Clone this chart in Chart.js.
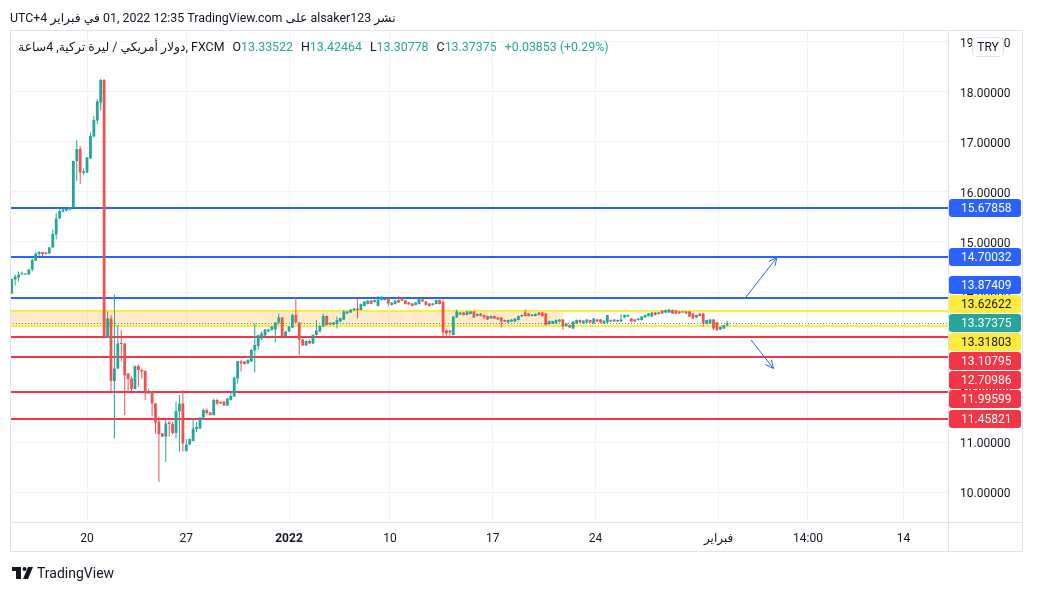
<!DOCTYPE html>
<html>
<head>
<meta charset="utf-8">
<script src="https://cdn.jsdelivr.net/npm/chart.js@4.4.0/dist/chart.umd.min.js"></script>
<style>
  html, body { margin: 0; padding: 0; background: #fff; }
  body { width: 1037px; height: 592px; position: relative; overflow: hidden;
         font-family: Roboto, "Noto Sans", "DejaVu Sans", sans-serif; color: #131722; }
  #chart { position: absolute; left: 0; top: 0; }
  #published { position: absolute; left: 10px; top: 10px; font-size: 12.4px; white-space: nowrap; }
  #legend { position: absolute; left: 18px; top: 39px; font-size: 12.4px; white-space: nowrap; }
  #legend .up { color: #26a69a; }
  #legend .gap { margin-left: 8px; }
  #footer { position: absolute; left: 37px; top: 565px; font-size: 14px; color: #131722; }
</style>
</head>
<body>
<canvas id="chart" width="1037" height="592"></canvas>
<div id="published" dir="ltr">UTC+4 <bdi>في فبراير</bdi> 01, 2022 12:35 TradingView.com <bdi>على</bdi> alsaker123 <bdi>نشر</bdi></div>
<div id="legend"><span>دولار أمريكي / ليرة تركية, 4ساعة, FXCM</span><span class="gap">O<span class="up">13.33522</span></span><span class="gap">H<span class="up">13.42464</span></span><span class="gap">L<span class="up">13.30778</span></span><span class="gap">C<span class="up">13.37375</span></span><span class="gap up">+0.03853 (+0.29%)</span></div>
<div id="footer">TradingView</div>
<script>
// --- date / slots (4h candles, weekends skipped) ---
const slotCount = 274;
const tickSlots = [22, 51, 81, 110.5, 140.5, 170.5, 206.5, 232.6, 260.5];
const tickLabels = ['20', '27', '2022', '10', '17', '24', 'فبراير', '14:00', '14'];

// --- USD/TRY 4h candles ---
const opens = [
  13.97, 14.25, 14.29, 14.35, 14.35, 14.35, 14.45, 14.63, 14.76, 14.80, 14.79, 14.77, 14.89, 15.15, 15.47, 15.61, 15.63, 15.65, 15.69, 16.62,
  16.86, 16.38, 16.39, 16.67, 17.11, 17.43, 17.79, 18.24, 13.09, 13.47, 12.22, 12.47, 12.98, 12.97, 12.37, 12.27, 12.06, 12.52, 12.44, 12.42,
  11.97, 12.00, 11.77, 11.41, 11.17, 11.11, 11.39, 11.36, 11.18, 11.61, 11.77, 10.82, 10.95, 11.02, 11.26, 11.27, 11.49, 11.64, 11.59, 11.54,
  11.84, 11.80, 11.81, 11.73, 11.84, 11.91, 12.27, 12.61, 12.61, 12.57, 12.61, 12.83, 12.92, 13.07, 13.13, 13.21, 13.24, 13.25, 13.39, 13.49,
  13.12, 13.21, 13.29, 13.54, 13.39, 13.05, 12.93, 13.02, 12.97, 13.14, 13.21, 13.31, 13.52, 13.35, 13.35, 13.36, 13.41, 13.45, 13.57, 13.59,
  13.63, 13.67, 13.64, 13.72, 13.76, 13.83, 13.80, 13.72, 13.84, 13.84, 13.87, 13.74, 13.76, 13.84, 13.87, 13.83, 13.79, 13.77, 13.74, 13.76,
  13.85, 13.81, 13.77, 13.74, 13.76, 13.84, 13.80, 13.24, 13.23, 13.14, 13.49, 13.55, 13.59, 13.54, 13.56, 13.61, 13.52, 13.57, 13.54, 13.52,
  13.47, 13.52, 13.49, 13.49, 13.44, 13.39, 13.41, 13.41, 13.44, 13.51, 13.59, 13.57, 13.52, 13.52, 13.59, 13.59, 13.57, 13.36, 13.37, 13.37,
  13.41, 13.45, 13.32, 13.34, 13.27, 13.37, 13.44, 13.37, 13.39, 13.44, 13.37, 13.45, 13.45, 13.37, 13.39, 13.44, 13.41, 13.44, 13.41, 13.49,
  13.51, 13.47, 13.45, 13.44, 13.44, 13.49, 13.52, 13.51, 13.59, 13.56, 13.63, 13.59, 13.59, 13.64, 13.63, 13.61, 13.59, 13.61, 13.61, 13.57,
  13.49, 13.57, 13.57, 13.36, 13.37, 13.45, 13.39, 13.25, 13.27, 13.33522
];
const highs = [
  14.27, 14.35, 14.41, 14.41, 14.37, 14.46, 14.66, 14.79, 14.82, 14.80, 14.80, 14.90, 15.25, 15.58, 15.69, 15.67, 15.68, 15.70, 16.62, 17.04,
  16.92, 16.47, 16.70, 17.19, 17.52, 17.86, 18.26, 18.26, 13.61, 13.54, 13.95, 13.34, 13.24, 12.98, 12.38, 12.31, 12.53, 12.55, 12.47, 12.43,
  12.07, 12.02, 11.78, 11.51, 11.18, 11.44, 11.42, 11.40, 11.81, 11.94, 12.04, 11.06, 11.07, 11.47, 11.40, 11.49, 11.67, 11.67, 11.60, 11.87,
  11.87, 11.81, 11.82, 11.88, 12.02, 12.30, 12.62, 12.64, 12.62, 12.66, 12.86, 13.37, 13.14, 13.21, 13.26, 13.26, 13.32, 13.40, 13.57, 13.50,
  13.22, 13.32, 13.57, 13.89, 13.40, 13.06, 13.03, 13.05, 13.15, 13.44, 13.33, 13.57, 13.53, 13.40, 13.40, 13.51, 13.48, 13.64, 13.62, 13.66,
  13.68, 13.87, 13.77, 13.82, 13.84, 13.84, 13.85, 13.92, 13.92, 13.88, 13.88, 13.79, 13.83, 13.92, 13.88, 13.84, 13.80, 13.78, 13.80, 13.88,
  13.86, 13.82, 13.78, 13.78, 13.84, 13.85, 13.85, 13.25, 13.24, 13.51, 13.65, 13.60, 13.60, 13.62, 13.62, 13.62, 13.57, 13.58, 13.55, 13.53,
  13.53, 13.53, 13.50, 13.50, 13.45, 13.45, 13.46, 13.48, 13.53, 13.55, 13.65, 13.58, 13.56, 13.57, 13.60, 13.60, 13.58, 13.43, 13.43, 13.45,
  13.46, 13.46, 13.38, 13.35, 13.41, 13.45, 13.45, 13.43, 13.46, 13.45, 13.48, 13.46, 13.46, 13.43, 13.54, 13.45, 13.46, 13.45, 13.56, 13.55,
  13.55, 13.48, 13.46, 13.48, 13.51, 13.55, 13.58, 13.59, 13.60, 13.60, 13.64, 13.65, 13.66, 13.65, 13.64, 13.62, 13.62, 13.62, 13.62, 13.58,
  13.55, 13.58, 13.58, 13.45, 13.46, 13.46, 13.40, 13.31, 13.34, 13.42464
];
const lows = [
  13.96, 14.13, 14.21, 14.34, 14.34, 14.34, 14.41, 14.62, 14.72, 14.71, 14.75, 14.76, 14.88, 15.05, 15.46, 15.59, 15.61, 15.63, 15.68, 16.22,
  16.16, 16.34, 16.38, 16.66, 17.09, 17.36, 17.63, 13.09, 13.08, 12.01, 11.07, 12.46, 12.61, 11.54, 11.97, 12.01, 12.05, 12.11, 12.27, 11.84,
  11.96, 11.51, 11.17, 10.20, 11.10, 10.60, 11.11, 11.15, 11.07, 10.81, 10.81, 10.81, 10.94, 11.01, 11.20, 11.26, 11.44, 11.54, 11.53, 11.53,
  11.74, 11.76, 11.72, 11.72, 11.83, 11.90, 12.17, 12.41, 12.55, 12.56, 12.60, 12.39, 12.84, 13.04, 13.12, 13.20, 13.23, 12.99, 13.35, 13.11,
  13.11, 13.20, 13.28, 13.38, 12.74, 12.92, 12.92, 12.96, 12.96, 13.13, 13.20, 13.30, 13.33, 13.34, 13.34, 13.27, 13.40, 13.44, 13.56, 13.58,
  13.62, 13.47, 13.63, 13.71, 13.75, 13.75, 13.79, 13.71, 13.83, 13.83, 13.71, 13.73, 13.75, 13.78, 13.82, 13.75, 13.75, 13.71, 13.73, 13.75,
  13.81, 13.73, 13.71, 13.73, 13.75, 13.75, 13.12, 13.13, 13.13, 13.13, 13.48, 13.54, 13.53, 13.53, 13.55, 13.48, 13.51, 13.51, 13.46, 13.44,
  13.46, 13.46, 13.44, 13.29, 13.40, 13.38, 13.40, 13.40, 13.43, 13.50, 13.51, 13.51, 13.51, 13.51, 13.53, 13.51, 13.33, 13.35, 13.36, 13.36,
  13.40, 13.24, 13.31, 13.28, 13.26, 13.36, 13.38, 13.36, 13.38, 13.38, 13.36, 13.40, 13.37, 13.36, 13.38, 13.40, 13.40, 13.40, 13.40, 13.48,
  13.50, 13.40, 13.40, 13.43, 13.43, 13.48, 13.51, 13.50, 13.53, 13.55, 13.56, 13.58, 13.58, 13.56, 13.56, 13.56, 13.58, 13.56, 13.50, 13.46,
  13.48, 13.51, 13.31, 13.35, 13.36, 13.24, 13.22, 13.24, 13.26, 13.30778
];
const closes = [
  14.26, 14.31, 14.35, 14.36, 14.36, 14.45, 14.64, 14.77, 14.80, 14.76, 14.76, 14.89, 15.16, 15.47, 15.62, 15.65, 15.66, 15.69, 16.62, 16.86,
  16.39, 16.41, 16.69, 17.12, 17.44, 17.81, 18.24, 13.09, 13.47, 12.22, 12.47, 12.97, 12.96, 12.33, 12.26, 12.06, 12.52, 12.44, 12.41, 11.97,
  12.00, 11.77, 11.39, 11.16, 11.11, 11.37, 11.36, 11.18, 11.62, 11.77, 10.97, 10.95, 11.06, 11.27, 11.30, 11.49, 11.64, 11.58, 11.54, 11.84,
  11.77, 11.77, 11.73, 11.87, 11.92, 12.29, 12.62, 12.57, 12.56, 12.64, 12.84, 12.94, 13.14, 13.17, 13.25, 13.25, 13.31, 13.39, 13.49, 13.12,
  13.21, 13.31, 13.54, 13.39, 13.04, 12.93, 13.02, 12.97, 13.14, 13.23, 13.32, 13.52, 13.34, 13.36, 13.39, 13.44, 13.48, 13.61, 13.61, 13.65,
  13.67, 13.64, 13.76, 13.81, 13.83, 13.76, 13.84, 13.85, 13.90, 13.87, 13.77, 13.79, 13.83, 13.79, 13.83, 13.76, 13.75, 13.72, 13.79, 13.87,
  13.81, 13.74, 13.72, 13.77, 13.84, 13.76, 13.19, 13.17, 13.19, 13.51, 13.61, 13.59, 13.54, 13.61, 13.61, 13.49, 13.56, 13.52, 13.49, 13.45,
  13.52, 13.47, 13.45, 13.41, 13.41, 13.44, 13.45, 13.47, 13.52, 13.54, 13.52, 13.52, 13.55, 13.56, 13.54, 13.52, 13.34, 13.42, 13.42, 13.44,
  13.45, 13.31, 13.37, 13.29, 13.41, 13.44, 13.39, 13.43, 13.45, 13.39, 13.47, 13.41, 13.39, 13.43, 13.54, 13.41, 13.45, 13.41, 13.45, 13.54,
  13.54, 13.41, 13.41, 13.47, 13.51, 13.54, 13.57, 13.59, 13.54, 13.59, 13.57, 13.64, 13.65, 13.57, 13.57, 13.57, 13.61, 13.57, 13.51, 13.47,
  13.54, 13.52, 13.37, 13.44, 13.45, 13.27, 13.24, 13.30, 13.34, 13.37375
];

// --- horizontal levels drawn on the chart ---
const resistanceLevels = [15.67858, 14.70032, 13.87409];
const zoneLevels = [13.62622, 13.31803];
const supportLevels = [13.10795, 12.70986, 11.99599, 11.45821];
const lastPrice = 13.37375;
const zoneEndSlot = 161;
// arrows: [slotFrom, priceFrom, slotTo, priceTo]
const arrowUp = [214.5, 13.90, 223.5, 14.69];
const arrowDown = [216, 13.04, 222.5, 12.47];

const teal = '#26a69a', red = '#ef5350';
const blue = '#2962ff', redLine = '#f23645', yellow = '#ffeb3b';
const frameColor = '#e0e3eb', gridColor = '#f0f3fa';
const fontFamily = 'Roboto, "Noto Sans", "DejaVu Sans", sans-serif';
Chart.defaults.font.family = fontFamily;

const candleColors = opens.map((o, i) => closes[i] >= o ? teal : red);
const slots = Array.from({ length: slotCount }, (_, i) => String(i));

function drawArrow(ctx, x1, y1, x2, y2) {
    ctx.beginPath(); ctx.moveTo(x1, y1); ctx.lineTo(x2, y2); ctx.stroke();
    const a = Math.atan2(y2 - y1, x2 - x1), len = 9;
    ctx.beginPath();
    ctx.moveTo(x2 - len * Math.cos(a - 0.45), y2 - len * Math.sin(a - 0.45));
    ctx.lineTo(x2, y2);
    ctx.lineTo(x2 - len * Math.cos(a + 0.45), y2 - len * Math.sin(a + 0.45));
    ctx.stroke();
}

function roundRect(ctx, x, y, w, h, r) {
    ctx.beginPath();
    ctx.moveTo(x + r, y); ctx.lineTo(x + w - r, y); ctx.quadraticCurveTo(x + w, y, x + w, y + r);
    ctx.lineTo(x + w, y + h - r); ctx.quadraticCurveTo(x + w, y + h, x + w - r, y + h);
    ctx.lineTo(x + r, y + h); ctx.quadraticCurveTo(x, y + h, x, y + h - r);
    ctx.lineTo(x, y + r); ctx.quadraticCurveTo(x, y, x + r, y);
    ctx.closePath();
}

// lines, zone and price line under the candles
const levelsPlugin = {
    id: 'levels',
    beforeDatasetsDraw(chart) {
        const { ctx, chartArea: a, scales: { x, y } } = chart;
        ctx.save();
        ctx.beginPath(); ctx.rect(a.left, a.top, a.right - a.left, a.bottom - a.top); ctx.clip();
        // zone fill
        const zTop = y.getPixelForValue(zoneLevels[0]), zBot = y.getPixelForValue(zoneLevels[1]);
        ctx.fillStyle = 'rgba(255, 152, 0, 0.2)';
        ctx.fillRect(a.left, zTop, x.getPixelForValue(zoneEndSlot) - a.left, zBot - zTop);
        ctx.lineWidth = 2;
        const hline = (v, c) => {
            const py = Math.round(y.getPixelForValue(v));
            ctx.strokeStyle = c; ctx.beginPath(); ctx.moveTo(a.left, py); ctx.lineTo(a.right, py); ctx.stroke();
        };
        resistanceLevels.forEach(v => hline(v, blue));
        zoneLevels.forEach(v => hline(v, yellow));
        supportLevels.forEach(v => hline(v, redLine));
        // last price dotted line
        const lp = Math.round(y.getPixelForValue(lastPrice)) + 0.5;
        ctx.lineWidth = 1; ctx.strokeStyle = teal; ctx.setLineDash([1, 2]);
        ctx.beginPath(); ctx.moveTo(a.left, lp); ctx.lineTo(a.right, lp); ctx.stroke();
        ctx.restore();
    },
    afterDatasetsDraw(chart) {
        const { ctx, scales: { x, y } } = chart;
        ctx.save();
        ctx.strokeStyle = blue; ctx.lineWidth = 1;
        [arrowUp, arrowDown].forEach(ar => drawArrow(ctx,
            x.getPixelForValue(ar[0]), y.getPixelForValue(ar[1]),
            x.getPixelForValue(ar[2]), y.getPixelForValue(ar[3])));
        ctx.restore();
    },
    afterDraw(chart) {
        const { ctx, chartArea: a, scales: { y } } = chart;
        ctx.save();
        // frame
        ctx.strokeStyle = frameColor; ctx.lineWidth = 1;
        ctx.strokeRect(a.left + 0.5, a.top + 0.5, y.right - a.left - 1, 551 - a.top);
        ctx.beginPath();
        ctx.moveTo(a.right + 0.5, a.top); ctx.lineTo(a.right + 0.5, 551);
        ctx.moveTo(a.left, a.bottom + 0.5); ctx.lineTo(y.right, a.bottom + 0.5);
        ctx.stroke();

        // price labels, stacked around the last price
        const step = 19, h = 18;
        const anchor = { v: lastPrice, bg: teal, fg: '#fff' };
        const tags = [
            ...resistanceLevels.map(v => ({ v, bg: blue, fg: '#fff' })),
            ...zoneLevels.map(v => ({ v, bg: yellow, fg: '#131722' })),
            ...supportLevels.map(v => ({ v, bg: redLine, fg: '#fff' }))
        ];
        anchor.py = y.getPixelForValue(anchor.v);
        tags.forEach(t => { t.py = y.getPixelForValue(t.v); });
        const above = tags.filter(t => t.py <= anchor.py).sort((p, q) => q.py - p.py);
        const below = tags.filter(t => t.py > anchor.py).sort((p, q) => p.py - q.py);
        let prev = anchor.py;
        above.forEach(t => { t.py = Math.min(t.py, prev - step); prev = t.py; });
        prev = anchor.py;
        below.forEach(t => { t.py = Math.max(t.py, prev + step); prev = t.py; });
        ctx.font = '12px ' + fontFamily;
        ctx.textBaseline = 'middle';
        [...tags, anchor].forEach(t => {
            roundRect(ctx, a.right + 1, Math.round(t.py - h / 2), 72, h, 3);
            ctx.fillStyle = t.bg; ctx.fill();
            ctx.fillStyle = t.fg;
            ctx.fillText(t.v.toFixed(5), a.right + 13, Math.round(t.py) + 1);
        });

        // currency badge
        roundRect(ctx, 972.5, 37.5, 31, 19, 4);
        ctx.fillStyle = '#fff'; ctx.fill();
        ctx.strokeStyle = frameColor; ctx.stroke();
        ctx.fillStyle = '#131722'; ctx.textAlign = 'center';
        ctx.fillText('TRY', 988, 48);

        // TradingView logo
        ctx.fillStyle = '#131722';
        ctx.fillRect(12, 567, 9, 4);
        ctx.fillRect(16, 567, 5, 12);
        ctx.beginPath(); ctx.arc(24.5, 569, 2, 0, Math.PI * 2); ctx.fill();
        ctx.beginPath();
        ctx.moveTo(28, 567); ctx.lineTo(33, 567); ctx.lineTo(28, 579); ctx.lineTo(23, 579);
        ctx.closePath(); ctx.fill();
        ctx.restore();
    }
};

new Chart(document.getElementById('chart'), {
    type: 'bar',
    data: {
        labels: slots,
        datasets: [
            {
                label: 'body',
                data: opens.map((o, i) => [o, closes[i]]),
                backgroundColor: candleColors,
                barThickness: 2.8, minBarLength: 1, grouped: false, inflateAmount: 0
            },
            {
                label: 'wick',
                data: lows.map((l, i) => [l, highs[i]]),
                backgroundColor: candleColors,
                barThickness: 1, grouped: false, inflateAmount: 0
            }
        ]
    },
    options: {
        responsive: false, animation: false,
        layout: { padding: { left: 10, top: 30, right: 14, bottom: 40 } },
        plugins: { legend: { display: false }, tooltip: { enabled: false } },
        scales: {
            x: {
                offset: true,
                grid: { offset: false, color: gridColor, drawTicks: false },
                border: { display: false },
                ticks: {
                    autoSkip: false, maxRotation: 0, padding: 10, color: '#131722',
                    font: (c) => ({ size: 12, weight: c.tick && c.tick.label === '2022' ? 'bold' : 'normal' }),
                    callback: (v) => tickLabels[tickSlots.indexOf(v)]
                },
                afterBuildTicks: (s) => { s.ticks = tickSlots.map(v => ({ value: v })); },
                afterFit: (s) => { s.height = 30; }
            },
            y: {
                position: 'right', min: 9.4, max: 19.24,
                grid: { color: gridColor, drawTicks: false },
                border: { display: false },
                ticks: {
                    stepSize: 1, includeBounds: false, padding: 12, labelOffset: 2, color: '#131722',
                    font: { size: 12 },
                    callback: (v) => v.toFixed(5)
                },
                afterFit: (s) => { s.width = 75; }
            }
        }
    },
    plugins: [levelsPlugin]
});
</script>
</body>
</html>
